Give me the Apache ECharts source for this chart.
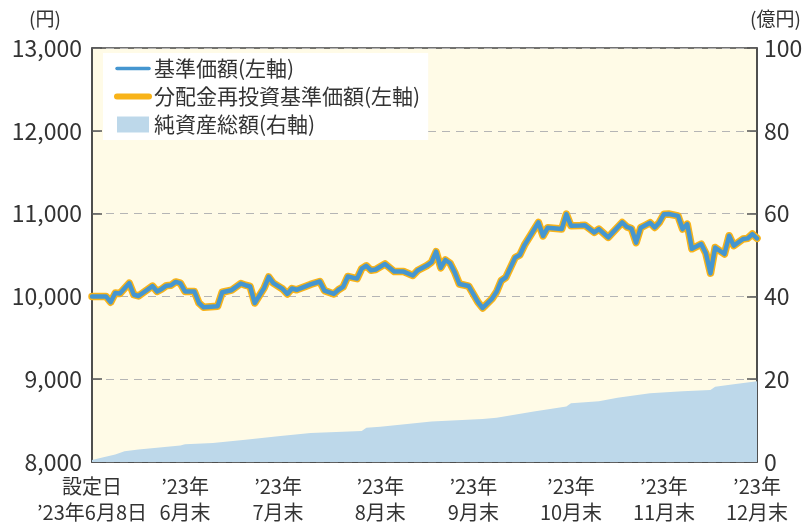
<!DOCTYPE html>
<html>
<head>
<meta charset="utf-8">
<script src="https://cdn.jsdelivr.net/npm/echarts@6/dist/echarts.min.js"></script>
<style>
  html, body { margin: 0; padding: 0; background: #fff; }
  #chart { width: 806px; height: 525px; }
</style>
</head>
<body>
<div id="chart"></div>
<script>
// 営業日インデックス（設定日=0）と各月末の目盛り
const dayCount = 144;
const tickDays = [0, 20, 40, 62, 82, 103, 123, 143];
const tickLabels = ['設定日\n’23年6月8日', '’23年\n6月末', '’23年\n7月末', '’23年\n8月末',
  '’23年\n9月末', '’23年\n10月末', '’23年\n11月末', '’23年\n12月末'];

// 基準価額（円） [営業日, 値]
const navDays = [0, 3, 4, 5, 6, 8, 9, 10, 13, 14, 15, 16, 17, 18, 19, 20, 22, 23, 24, 27, 28, 30,
  32, 33, 34, 35, 37, 38, 39, 41, 42, 43, 44, 47, 49, 50, 52, 53, 54, 55, 57, 58, 59, 60, 61, 63,
  65, 67, 69, 70, 72, 73, 74, 75, 76, 77, 78, 79, 81, 83, 84, 86, 87, 88, 89, 91, 92, 93, 96, 97,
  98, 101, 102, 103, 105, 106, 108, 109, 111, 112, 114, 115, 116, 117, 118, 119, 120, 121, 122,
  123, 124, 126, 127, 128, 129, 131, 132, 133, 134, 136, 137, 138, 140, 141, 142, 143];
const navValues = [10000, 10000, 9930, 10040, 10035, 10160, 10020, 10005, 10125, 10060, 10090,
  10130, 10135, 10175, 10160, 10060, 10060, 9920, 9868, 9880, 10050, 10075, 10155, 10135, 10120,
  9920, 10100, 10235, 10160, 10090, 10030, 10095, 10080, 10145, 10180, 10070, 10030, 10080, 10115,
  10240, 10215, 10335, 10370, 10315, 10325, 10392, 10300, 10300, 10252, 10312, 10372, 10412, 10540,
  10345, 10440, 10400, 10290, 10150, 10125, 9930, 9860, 9970, 10055, 10190, 10230, 10470, 10500,
  10620, 10893, 10730, 10830, 10813, 10993, 10853, 10855, 10860, 10773, 10813, 10713, 10773, 10893,
  10840, 10820, 10650, 10830, 10860, 10890, 10833, 10893, 10993, 10995, 10973, 10813, 10873, 10575,
  10632, 10520, 10280, 10590, 10512, 10733, 10613, 10693, 10701, 10753, 10701];

// 純資産総額（億円）
const assetDays = [0, 2, 5, 7, 10, 19, 20, 26, 33, 40, 47, 58, 59, 62, 73, 84, 87, 95, 102, 103,
  109, 113, 120, 127, 133, 134, 138, 143];
const assetValues = [0.5, 1.0, 1.8, 2.6, 3.0, 4.0, 4.3, 4.6, 5.4, 6.2, 7.0, 7.5, 8.3, 8.5, 9.8,
  10.4, 10.7, 12.2, 13.4, 14.2, 14.7, 15.5, 16.6, 17.1, 17.4, 18.2, 18.8, 19.5];

const categories = Array.from({ length: dayCount }, (_, i) => String(i));
const navData = navDays.map((d, i) => [d, navValues[i]]);
const assetData = assetDays.map((d, i) => [d, assetValues[i]]);

const font = 'Noto Sans CJK JP';
const textColor = '#333';

const chart = echarts.init(document.getElementById('chart'));
chart.setOption({
  animation: false,
  textStyle: { fontFamily: font },
  grid: {
    left: 92, right: 49, top: 48, bottom: 61,
    show: true, backgroundColor: '#FFFBE7', borderColor: '#444', borderWidth: 1.5
  },
  graphic: [
    { type: 'text', left: 29, top: 9, style: { text: '(円)', font: '19px "Noto Sans CJK JP"', fill: textColor } },
    { type: 'text', left: 750, top: 9, style: { text: '(億円)', font: '19px "Noto Sans CJK JP"', fill: textColor } }
  ],
  legend: {
    left: 103, top: 53,
    orient: 'vertical',
    backgroundColor: '#fff',
    padding: [5, 8, 5, 11],
    itemWidth: 32, itemHeight: 16, itemGap: 7,
    textStyle: { fontSize: 21, lineHeight: 21, color: textColor, fontFamily: font },
    data: [
      { name: '基準価額(左軸)', itemStyle: { opacity: 0 }, lineStyle: { width: 3.5, cap: 'round' } },
      { name: '分配金再投資基準価額(左軸)', itemStyle: { opacity: 0 }, lineStyle: { width: 6, cap: 'round' } },
      { name: '純資産総額(右軸)', icon: 'rect' }
    ]
  },
  xAxis: {
    type: 'category',
    data: categories,
    boundaryGap: false,
    axisLine: { lineStyle: { color: '#444', width: 1.5 } },
    axisTick: {
      inside: true, length: 11,
      interval: (i) => tickDays.slice(1, -1).includes(i),
      lineStyle: { color: '#555', width: 1.5 }
    },
    axisLabel: {
      interval: (i) => tickDays.includes(i),
      formatter: (v) => tickLabels[tickDays.indexOf(Number(v))],
      fontSize: 20, lineHeight: 26, color: textColor, margin: 11
    },
    splitLine: { show: false }
  },
  yAxis: [
    {
      type: 'value', min: 8000, max: 13000, interval: 1000,
      axisLine: { show: true, lineStyle: { color: '#444', width: 1.5 } },
      axisTick: { show: true, inside: true, length: 10, lineStyle: { color: '#555', width: 1.5 } },
      axisLabel: {
        fontSize: 23, color: textColor, margin: 10,
        formatter: (v) => v.toLocaleString('en-US')
      },
      splitLine: { lineStyle: { color: '#B5B5B5', type: [8, 6], width: 1.2 } }
    },
    {
      type: 'value', min: 0, max: 100, interval: 20,
      axisLine: { show: true, lineStyle: { color: '#444', width: 1.5 } },
      axisTick: { show: true, inside: true, length: 10, lineStyle: { color: '#555', width: 1.5 } },
      axisLabel: { fontSize: 23, color: textColor, margin: 7 },
      splitLine: { show: false }
    }
  ],
  series: [
    {
      name: '純資産総額(右軸)',
      type: 'line', yAxisIndex: 1,
      data: assetData,
      symbol: 'none',
      color: '#BDD8EA',
      lineStyle: { width: 0 },
      areaStyle: { color: '#BDD8EA', opacity: 1 },
      z: 1
    },
    {
      name: '分配金再投資基準価額(左軸)',
      type: 'line',
      data: navData,
      symbol: 'none',
      color: '#F8B319',
      lineStyle: { width: 7.5, join: 'round', cap: 'round' },
      z: 2
    },
    {
      name: '基準価額(左軸)',
      type: 'line',
      data: navData,
      symbol: 'none',
      color: '#4596D0',
      lineStyle: { width: 4.5, join: 'round', cap: 'round' },
      z: 3
    }
  ]
});
</script>
</body>
</html>
